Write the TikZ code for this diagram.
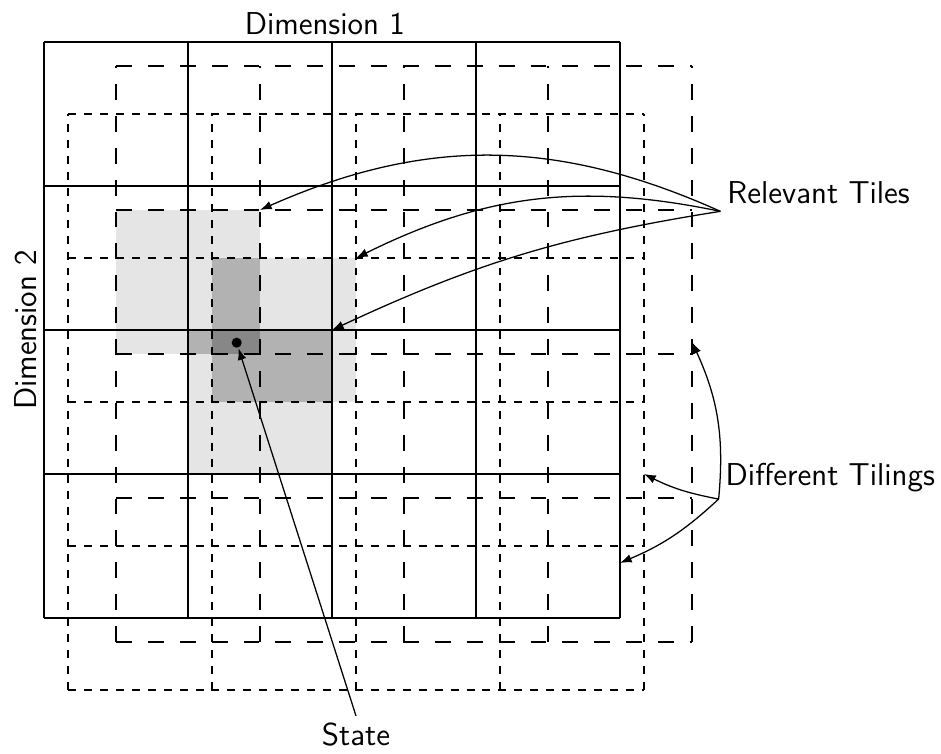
\documentclass[tikz,border=0pt]{standalone}
\usetikzlibrary{arrows.meta}
\begin{document}
\begin{tikzpicture}[x=2cm,y=2cm,line width=0.6pt,>={Latex[length=4.6pt,width=3.4pt]},font=\sffamily\fontsize{12.5}{15}\selectfont]
	\tikzset{every node/.style={inner sep=2.5pt},
		longdash/.style={dash pattern=on 6.3pt off 6.3pt},
		shortdash/.style={dash pattern=on 3.15pt off 3.15pt},
		pointer/.style={->,line width=0.5pt}}
	\useasboundingbox (-0.3056,-0.9444) rectangle (6.2292,4.2917);
	% relevant tiles, darker where they overlap
	\fill[black!10] (0.5,11/6) rectangle (1.5,17/6);
	\fill[black!10] (7/6,1.5) rectangle (13/6,2.5);
	\fill[black!10] (1,1) rectangle (2,2);
	\fill[black!30] (7/6,11/6) rectangle (1.5,2.5);
	\fill[black!30] (1,11/6) rectangle (1.5,2);
	\fill[black!30] (7/6,1.5) rectangle (2,2);
	\fill[black!47] (7/6,11/6) rectangle (1.5,2);
	% the three tilings
	\draw[step=1] (0,0) grid (4,4);
	\draw[step=1,longdash,shift={(0.5,-1/6)}] (0,0) grid (4,4);
	\draw[step=1,shortdash,shift={(1/6,-0.5)}] (0,0) grid (4,4);
	% labels
	\node[anchor=south] (dimx) at (1.95,4) {Dimension 1};
	\node[anchor=south,rotate=90] (dimy) at (0,2) {Dimension 2};
	\node[anchor=south west] (rel) at (4.697,2.824) {Relevant Tiles};
	\node[anchor=south west] (diff) at (4.685,0.826) {Different Tilings};
	\node[anchor=north] (state) at (13/6,-0.68) {State};
	\node[circle,fill,inner sep=0pt,minimum size=4pt] (pt) at (1.338,1.912) {};
	\coordinate (tileA) at (1.5,17/6);
	\coordinate (tileB) at (13/6,2.5);
	\coordinate (tileC) at (2,2);
	\coordinate (edgeA) at (4.5,1.9167);
	\coordinate (edgeB) at (25/6,1);
	\coordinate (edgeC) at (4,0.382);
	% arrows
	\draw[pointer] (rel.south west) to[bend right=24] (tileA);
	\draw[pointer] (rel.south west) to[bend right=19] (tileB);
	\draw[pointer] (rel.south west) to[bend right=8] (tileC);
	\draw[pointer] (diff.south west) to[bend right=15] (edgeA);
	\draw[pointer] (diff.south west) to[bend left=8] (edgeB);
	\draw[pointer] (diff.south west) to[bend left=10] (edgeC);
	\draw[pointer] (state.north) -- (pt);
\end{tikzpicture}
\end{document}
